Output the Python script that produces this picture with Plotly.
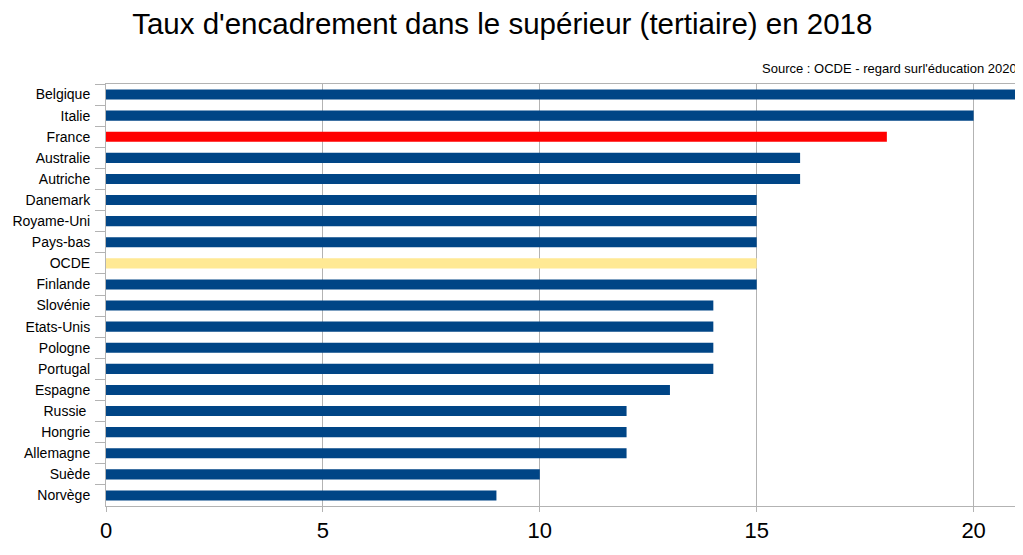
import plotly.graph_objects as go

countries = ["Belgique", "Italie", "France", "Australie", "Autriche", "Danemark",
             "Royame-Uni", "Pays-bas", "OCDE", "Finlande", "Slovénie", "Etats-Unis",
             "Pologne", "Portugal", "Espagne", "Russie ", "Hongrie", "Allemagne",
             "Suède", "Norvège"]
values = [21, 20, 18, 16, 16, 15, 15, 15, 15, 15, 14, 14, 14, 14, 13, 12, 12, 12, 10, 9]

BLUE = "#004586"
colors = []
for c in countries:
    if c == "France":
        colors.append("#ff0000")
    elif c == "OCDE":
        colors.append("#ffe994")
    else:
        colors.append(BLUE)

fig = go.Figure(go.Bar(
    x=values, y=countries, orientation="h",
    marker=dict(color=colors, line=dict(width=0)),
    hoverinfo="x+y",
))

# page body has an 8px margin, so the figure is placed at (8, 8)
fig.update_layout(
    width=1015, height=547,
    margin=dict(l=98, r=6, t=76, b=49),
    paper_bgcolor="white", plot_bgcolor="white",
    bargap=0.52,
    showlegend=False,
    font=dict(family="Liberation Sans, Arial, sans-serif", color="#000000"),
    title=dict(text="Taux d'encadrement dans le supérieur (tertiaire) en 2018",
               x=0.487, xanchor="center", y=0.972, yanchor="middle",
               font=dict(size=29.5, color="#000000")),
    annotations=[dict(text="Source : OCDE - regard surl'éducation 2020",
                      xref="paper", yref="paper", x=1.002, y=1.0, yshift=16,
                      xanchor="right", yanchor="middle", showarrow=False,
                      font=dict(size=13, color="#000000"))],
)

fig.update_xaxes(range=[0, 21], tickvals=[0, 5, 10, 15, 20],
                 showgrid=True, gridcolor="#b3b3b3", gridwidth=1,
                 showline=True, linecolor="#b3b3b3", linewidth=1, mirror=True,
                 ticks="outside", ticklen=5, tickcolor="#b3b3b3",
                 tickfont=dict(size=22), zeroline=False, fixedrange=True,
                 automargin=False)
fig.update_yaxes(autorange="reversed", showline=True, linecolor="#b3b3b3", linewidth=1,
                 ticks="outside", ticklen=10, tickcolor="#b3b3b3", tickson="boundaries",
                 ticklabelstandoff=12, automargin=False,
                 showgrid=False, tickfont=dict(size=14), fixedrange=True)

fig.write_html("out.html")
